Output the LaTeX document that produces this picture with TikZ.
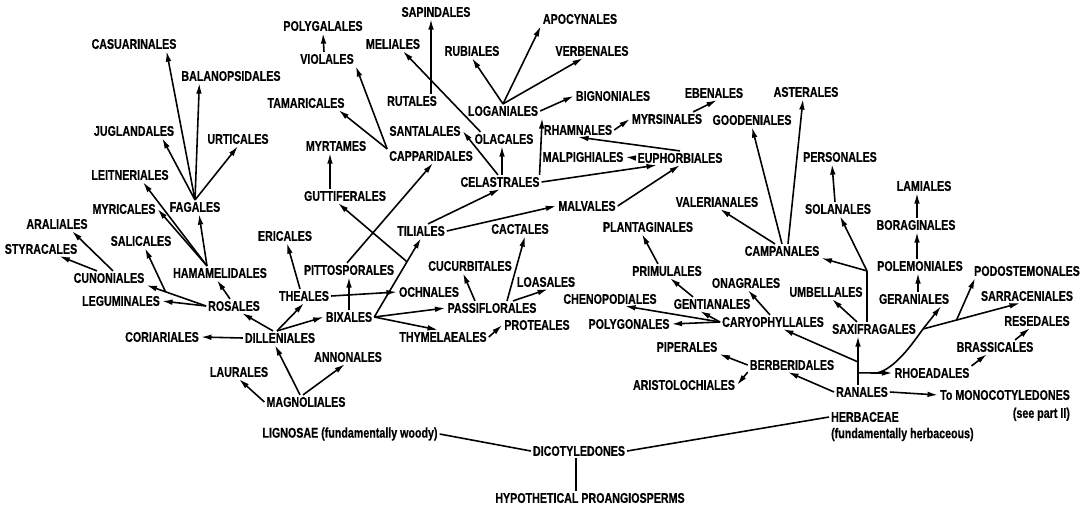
\documentclass[tikz,border=0pt]{standalone}
\usepackage{fontspec}
\newfontfamily\ordfont[FakeStretch=0.76,FakeBold=0.5]{Liberation Sans}
\usepackage{tikz}
\usetikzlibrary{positioning,calc,arrows.meta}

\tikzset{
  ord/.style={font=\ordfont\bfseries\fontsize{8}{9}\selectfont,inner sep=1pt},
  arw/.style={-{Latex[length=6pt,width=3.2pt]},line width=0.9pt},
  lnk/.style={line width=0.9pt}
}

\begin{document}
\begin{tikzpicture}[x=0.02cm,y=-0.02cm]
        \useasboundingbox (0,0) rectangle (1089,512);

        % Base of the tree
        \node[ord] (proangiosperms) at (590,498) {HYPOTHETICAL PROANGIOSPERMS};
        \node[ord] (dicotyledones) at (579,451) {DICOTYLEDONES};
        \node[ord] (lignosae) at (350,434) {LIGNOSAE (fundamentally woody)};
        \node[ord] (herbaceae) at (865,417) {HERBACEAE};
        \node[ord,below right=1pt and 0pt of herbaceae.south west] (herbnote) {(fundamentally herbaceous)};

        % Woody orders, left part
        \node[ord] (casuarinales) at (134,44) {CASUARINALES};
        \node[ord] (balanopsidales) at (231,76) {BALANOPSIDALES};
        \node[ord] (juglandales) at (134,131) {JUGLANDALES};
        \node[ord] (urticales) at (238,139) {URTICALES};
        \node[ord] (leitneriales) at (130,175) {LEITNERIALES};
        \node[ord] (fagales) at (195,207) {FAGALES};
        \node[ord] (myricales) at (124,209) {MYRICALES};
        \node[ord] (araliales) at (57,224) {ARALIALES};
        \node[ord] (styracales) at (41,249) {STYRACALES};
        \node[ord] (salicales) at (141,241) {SALICALES};
        \node[ord] (cunoniales) at (109,278) {CUNONIALES};
        \node[ord] (hamamelidales) at (220,273) {HAMAMELIDALES};
        \node[ord] (leguminales) at (121,301) {LEGUMINALES};
        \node[ord] (rosales) at (234,306) {ROSALES};
        \node[ord] (coriariales) at (162,337) {CORIARIALES};
        \node[ord] (dilleniales) at (280,338) {DILLENIALES};
        \node[ord] (laurales) at (239,372) {LAURALES};
        \node[ord] (magnoliales) at (306,402) {MAGNOLIALES};
        \node[ord] (annonales) at (348,357) {ANNONALES};

        % Woody orders, upper middle
        \node[ord] (polygalales) at (323,26) {POLYGALALES};
        \node[ord] (violales) at (327,59) {VIOLALES};
        \node[ord] (sapindales) at (436,12) {SAPINDALES};
        \node[ord] (meliales) at (393,44) {MELIALES};
        \node[ord] (rubiales) at (472,51) {RUBIALES};
        \node[ord] (apocynales) at (580,19) {APOCYNALES};
        \node[ord] (verbenales) at (592,51) {VERBENALES};
        \node[ord] (tamaricales) at (306,103) {TAMARICALES};
        \node[ord] (rutales) at (412,101) {RUTALES};
        \node[ord] (loganiales) at (503,111) {LOGANIALES};
        \node[ord] (santalales) at (425,131) {SANTALALES};
        \node[ord] (olacales) at (504,139) {OLACALES};
        \node[ord] (myrtames) at (336,146) {MYRTAMES};
        \node[ord] (capparidales) at (431,156) {CAPPARIDALES};
        \node[ord] (celastrales) at (500,182) {CELASTRALES};
        \node[ord] (bignoniales) at (613,96) {BIGNONIALES};
        \node[ord] (ebenales) at (714,93) {EBENALES};
        \node[ord] (myrsinales) at (667,119) {MYRSINALES};
        \node[ord] (rhamnales) at (578,130) {RHAMNALES};
        \node[ord] (malpighiales) at (583,157) {MALPIGHIALES};
        \node[ord] (euphorbiales) at (680,158) {EUPHORBIALES};

        % Woody orders, lower middle
        \node[ord] (guttiferales) at (345,196) {GUTTIFERALES};
        \node[ord] (tiliales) at (421,231) {TILIALES};
        \node[ord] (ericales) at (285,236) {ERICALES};
        \node[ord] (pittosporales) at (349,270) {PITTOSPORALES};
        \node[ord] (theales) at (304,296) {THEALES};
        \node[ord] (ochnales) at (429,292) {OCHNALES};
        \node[ord] (bixales) at (349,317) {BIXALES};
        \node[ord] (cucurbitales) at (470,266) {CUCURBITALES};
        \node[ord] (cactales) at (520,229) {CACTALES};
        \node[ord] (passiflorales) at (492,308) {PASSIFLORALES};
        \node[ord] (loasales) at (546,282) {LOASALES};
        \node[ord] (thymelaeales) at (443,337) {THYMELAEALES};
        \node[ord] (proteales) at (537,325) {PROTEALES};
        \node[ord] (malvales) at (587,206) {MALVALES};

        % Herbaceous orders
        \node[ord] (asterales) at (806,92) {ASTERALES};
        \node[ord] (goodeniales) at (752,120) {GOODENIALES};
        \node[ord] (personales) at (840,157) {PERSONALES};
        \node[ord] (valerianales) at (717,202) {VALERIANALES};
        \node[ord] (plantaginales) at (648,227) {PLANTAGINALES};
        \node[ord] (campanales) at (782,251) {CAMPANALES};
        \node[ord] (primulales) at (667,271) {PRIMULALES};
        \node[ord] (onagrales) at (746,283) {ONAGRALES};
        \node[ord] (umbellales) at (826,292) {UMBELLALES};
        \node[ord] (chenopodiales) at (610,299) {CHENOPODIALES};
        \node[ord] (gentianales) at (712,304) {GENTIANALES};
        \node[ord] (polygonales) at (629,324) {POLYGONALES};
        \node[ord] (caryophyllales) at (773,322) {CARYOPHYLLALES};
        \node[ord] (piperales) at (687,347) {PIPERALES};
        \node[ord] (berberidales) at (792,365) {BERBERIDALES};
        \node[ord] (aristolochiales) at (684,385) {ARISTOLOCHIALES};
        \node[ord] (saxifragales) at (874,329) {SAXIFRAGALES};
        \node[ord] (geraniales) at (914,299) {GERANIALES};
        \node[ord] (polemoniales) at (920,266) {POLEMONIALES};
        \node[ord] (boraginales) at (916,225) {BORAGINALES};
        \node[ord] (lamiales) at (924,186) {LAMIALES};
        \node[ord] (solanales) at (838,209) {SOLANALES};
        \node[ord] (podostemonales) at (1027,271) {PODOSTEMONALES};
        \node[ord] (sarraceniales) at (1027,296) {SARRACENIALES};
        \node[ord] (resedales) at (1037,321) {RESEDALES};
        \node[ord] (brassicales) at (995,347) {BRASSICALES};
        \node[ord] (rhoeadales) at (932,373) {RHOEADALES};
        \node[ord] (ranales) at (862,392) {RANALES};
        \node[ord] (mono) at (1005,395) {To MONOCOTYLEDONES};
        \node[ord,below left=2pt and 0pt of mono.south east] (seepart) {(see part II)};

        % Trunk
        \draw[lnk] (dicotyledones.west) -- (lignosae.east);
        \draw[lnk] (dicotyledones.east) -- (herbaceae.west);
        \draw[lnk] ($(dicotyledones.south)+(-3,0)$) -- ($(proangiosperms.north)+(-14,0)$);

        % Magnoliales and Dilleniales
        \draw[arw] ($(magnoliales.north)+(-6,0)$) -- ($(dilleniales.south)+(-5,0)$);
        \draw[arw] (magnoliales.west) -- (laurales.south);
        \draw[arw] ($(magnoliales.north)+(-3,0)$) -- ($(annonales.south)+(-3,0)$);
        \draw[arw] ($(dilleniales.north)+(-7,0)$) -- ($(rosales.south)+(8,0)$);
        \draw[arw] (dilleniales.west) -- (coriariales.east);
        \draw[arw] ($(dilleniales.north)+(-3,0)$) -- (theales.south);
        \draw[arw] ($(dilleniales.north)+(-3,0)$) -- (bixales.west);

        % Rosales branch
        \draw[arw] ($(rosales.north)+(-4,0)$) -- ($(hamamelidales.south)+(-3,0)$);
        \draw[arw] (rosales.west) -- (cunoniales.south east);
        \draw[arw] ($(rosales.west)!0.68!(cunoniales.south east)$) -- ($(salicales.south)+(4,0)$);
        \draw[arw] (rosales.west) -- (leguminales.east);
        \draw[arw] ($(cunoniales.north)+(4,0)$) -- ($(araliales.south)+(15,0)$);
        \draw[arw] ($(cunoniales.north)+(-12,0)$) -- ($(styracales.south east)+(-20,0)$);
        \draw[arw] ($(hamamelidales.north)+(-13,0)$) -- ($(fagales.south)+(4,0)$);
        \draw[arw] ($(hamamelidales.north)+(-13,0)$) -- (myricales.east);
        \draw[arw] ($(hamamelidales.north)+(-13,0)$) -- ($(leitneriales.south)+(13,0)$);
        \draw[arw] (fagales.north) -- ($(casuarinales.south east)+(-12,0)$);
        \draw[arw] (fagales.north) -- ($(balanopsidales.south west)+(20,0)$);
        \draw[arw] (fagales.north) -- (urticales.south);
        \draw[arw] (fagales.north) -- ($(juglandales.south east)+(-14,0)$);

        % Theales and Bixales
        \draw[arw] ($(theales.north)+(-4,0)$) -- ($(ericales.south)+(2,0)$);
        \draw[arw] (theales.east) -- (ochnales.west);
        \draw[arw] (bixales.north) -- (pittosporales.south);
        \draw[arw] ($(pittosporales.north)+(-2,0)$) -- ($(capparidales.south)+(2,0)$);
        \draw[arw] (bixales.east) -- (tiliales.south);
        \draw[arw] ($(bixales.east)!0.7!(tiliales.south)$) -- ($(guttiferales.south)+(-7,0)$);
        \draw[arw] (bixales.east) -- (passiflorales.west);
        \draw[arw] (bixales.east) -- ($(thymelaeales.north)+(-5,0)$);
        \draw[arw] (thymelaeales.east) -- (proteales.west);
        \draw[arw] ($(passiflorales.north)+(-17,0)$) -- ($(cucurbitales.south)+(-7,0)$);
        \draw[arw] ($(passiflorales.north)+(15,0)$) -- ($(cactales.south)+(5,0)$);
        \draw[arw] ($(passiflorales.north)+(21,0)$) -- ($(loasales.south)+(2,0)$);
        \draw[arw] ($(guttiferales.north)+(-15,0)$) -- ($(myrtames.south)+(-6,0)$);
        \draw[arw] ($(tiliales.north)+(7,0)$) -- (celastrales.south);
        \draw[arw] (tiliales.east) -- (malvales.west);

        % Capparidales and Celastrales
        \draw[arw] (capparidales.north west) -- ($(tamaricales.south east)+(-8,0)$);
        \draw[arw] (capparidales.north west) -- (violales.south east);
        \draw[arw] ($(violales.north)+(-3,0)$) -- (polygalales.south);
        \draw[arw] ($(rutales.north)+(19,0)$) -- ($(sapindales.south)+(-5,0)$);
        \draw[arw] ($(olacales.north west)+(8,0)$) -- ($(meliales.south)+(10,0)$);
        \draw[arw] ($(celastrales.north)+(-2,0)$) -- (santalales.east);
        \draw[arw] ($(celastrales.north)+(2,0)$) -- ($(olacales.south)+(-2,0)$);
        \draw[arw] ($(celastrales.north east)+(-2,0)$) -- ($(loganiales.south east)+(2,0)$);
        \draw[arw] (celastrales.east) -- ($(euphorbiales.south)+(-23,0)$);
        \draw[arw] (loganiales.north) -- (rubiales.south);
        \draw[arw] (loganiales.north) -- (apocynales.south west);
        \draw[arw] (loganiales.north) -- ($(verbenales.south)+(-9,0)$);
        \draw[arw] (loganiales.east) -- (bignoniales.west);

        % Euphorbiales
        \draw[arw] (malvales.east) -- (euphorbiales.south);
        \draw[arw] (euphorbiales.north) -- (rhamnales.south);
        \draw[arw] (euphorbiales.west) -- (malpighiales.east);
        \draw[arw] (rhamnales.east) -- (myrsinales.west);
        \draw[arw] ($(myrsinales.north east)+(-11,0)$) -- ($(ebenales.south)+(3,0)$);

        % Ranales hub
        \coordinate (hubc) at ($(ranales.north)+(-4,-23)$);
        \coordinate (hubr) at ($(ranales.north)+(-4,-12)$);
        \coordinate (fork) at ($(saxifragales.east)+(5,0)$);
        \draw[arw] ($(ranales.north)+(-4,0)$) -- ($(saxifragales.south)+(-16,0)$);
        \draw[arw] (hubc) -- ($(caryophyllales.south)+(10,0)$);
        \draw[arw] (hubr) -- (rhoeadales.west);
        \draw[lnk] ($(hubr)+(19,0)$) .. controls ($(hubr)+(37,-4)$) and ($(fork)+(-10,14)$) .. (fork);
        \draw[arw] (fork) -- ($(geraniales.south east)+(-10,0)$);
        \draw[arw] (fork) -- ($(sarraceniales.south)+(-7,0)$);
        \draw[arw] ($(fork)!0.32!(sarraceniales.south)$) -- ($(podostemonales.south west)+(3,0)$);
        \draw[arw] (rhoeadales.north east) -- ($(brassicales.south)+(-8,0)$);
        \draw[arw] ($(brassicales.north)+(20,0)$) -- ($(resedales.south)+(-7,0)$);
        \draw[arw] (ranales.east) -- (mono.west);
        \draw[arw] (ranales.west) -- ($(berberidales.south)+(-4,0)$);
        \draw[arw] (berberidales.west) -- (piperales.south east);
        \draw[arw] (berberidales.south west) -- (aristolochiales.east);

        % Saxifragales branch
        \coordinate (sxj) at ($(saxifragales.north)+(-7,-51)$);
        \draw[lnk] ($(saxifragales.north)+(-7,0)$) -- (sxj);
        \draw[arw] (sxj) -- (campanales.south east);
        \draw[arw] (sxj) -- ($(solanales.south)+(2,0)$);
        \draw[arw] ($(saxifragales.north)+(-17,0)$) -- ($(umbellales.south)+(6,0)$);
        \draw[arw] ($(solanales.north)+(-3,0)$) -- ($(personales.south)+(-8,0)$);
        \draw[arw] ($(geraniales.north)+(4,0)$) -- ($(polemoniales.south)+(-2,0)$);
        \draw[arw] ($(polemoniales.north)+(-3,0)$) -- ($(boraginales.south)+(1,0)$);
        \draw[arw] ($(boraginales.north)+(1,0)$) -- ($(lamiales.south)+(-7,0)$);

        % Campanales
        \draw[arw] ($(campanales.north)+(-7,0)$) -- ($(valerianales.south)+(3,0)$);
        \draw[arw] (campanales.north) -- (goodeniales.south);
        \draw[arw] ($(campanales.north)+(6,0)$) -- ($(asterales.south)+(-3,0)$);

        % Caryophyllales
        \draw[arw] (caryophyllales.west) -- ($(gentianales.south)+(-12,0)$);
        \draw[arw] (caryophyllales.west) -- ($(chenopodiales.south)+(15,0)$);
        \draw[arw] (caryophyllales.west) -- (polygonales.east);
        \draw[arw] ($(caryophyllales.north)+(-3,0)$) -- ($(onagrales.south)+(2,0)$);
        \draw[arw] ($(gentianales.north)+(-19,0)$) -- ($(primulales.south)+(3,0)$);
        \draw[arw] ($(primulales.north)+(-9,0)$) -- ($(plantaginales.south)+(-6,0)$);
\end{tikzpicture}
\end{document}
